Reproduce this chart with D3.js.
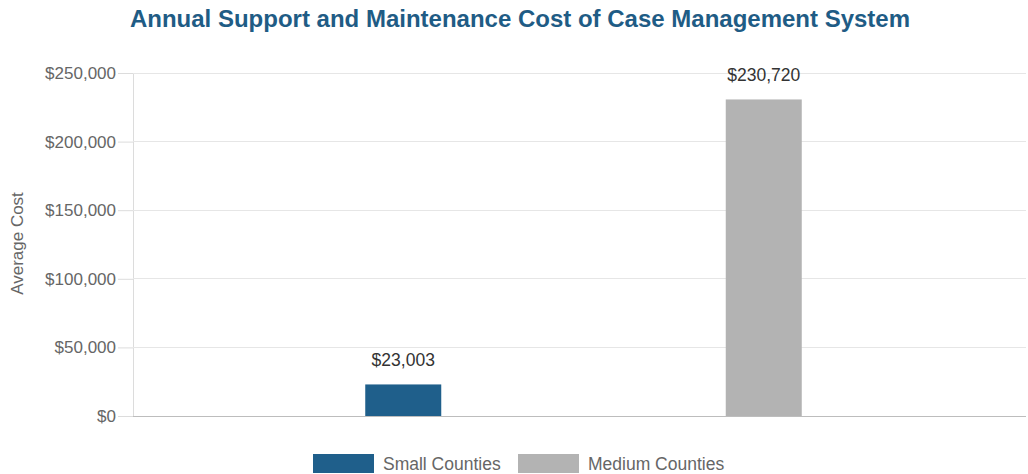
<!DOCTYPE html>
<html>
<head>
<meta charset="utf-8">
<script src="https://cdn.jsdelivr.net/npm/d3@7"></script>
<style>
  body { margin: 0; background: #fff; }
  text { font-family: "Liberation Sans", Arial, sans-serif; }
</style>
</head>
<body>
<script>
const series = ["Small Counties", "Medium Counties"]
const values = [23003, 230720]
const colors = ["#1f5f8b", "#b3b3b3"]
const yTicks = [0, 50000, 100000, 150000, 200000, 250000]

const W = 1028, H = 474
const margin = {top: 73, right: 2, bottom: 58, left: 133}
const width = W - margin.left - margin.right,
  height = H - margin.top - margin.bottom

const svg = d3.select('body').append('svg')
  .attr('width', W)
  .attr('height', H)

const money = d => '$' + d3.format(',')(d)

const scaleY = d3.scaleLinear()
  .domain([0, 250000])
  .range([height, 0])

// one category, two datasets side by side
const scaleX = d3.scaleBand()
  .domain(series)
  .range([90, width - 82])

const barW = 76

// title
svg.append('text')
  .attr('x', 520).attr('y', 27)
  .attr('text-anchor', 'middle')
  .attr('font-size', 24).attr('font-weight', 'bold')
  .attr('fill', '#1f5c85')
  .text('Annual Support and Maintenance Cost of Case Management System')

const g = svg.append('g').attr('transform', `translate(${margin.left},${margin.top})`)

// grid + y axis
const axisY = d3.axisLeft(scaleY)
  .tickValues(yTicks)
  .tickFormat(money)
  .tickSize(15)
  .tickPadding(2)

const yG = g.append('g').call(axisY)
yG.select('.domain').attr('stroke', '#dcdcdc')
yG.selectAll('.tick line').attr('stroke', '#dcdcdc')
yG.selectAll('.tick text').attr('fill', '#666').attr('font-size', 17)
  .attr('font-family', '"Liberation Sans", Arial, sans-serif')

g.append('g').selectAll('line')
  .data(yTicks)
  .enter().append('line')
  .attr('x1', 0).attr('x2', width)
  .attr('y1', d => scaleY(d)).attr('y2', d => scaleY(d))
  .attr('stroke', d => d === 0 ? '#bdbdbd' : '#e6e6e6')
  .attr('shape-rendering', 'crispEdges')

// y title
svg.append('text')
  .attr('transform', `translate(23,${margin.top + height / 2 - 1}) rotate(-90)`)
  .attr('text-anchor', 'middle')
  .attr('font-size', 17).attr('fill', '#666')
  .text('Average Cost')

// bars
g.selectAll('rect.bar')
  .data(series)
  .enter().append('rect')
  .attr('class', 'bar')
  .attr('x', d => scaleX(d) + scaleX.bandwidth() / 2 - barW / 2)
  .attr('width', barW)
  .attr('y', (d, i) => scaleY(values[i]))
  .attr('height', (d, i) => height - scaleY(values[i]))
  .attr('fill', (d, i) => colors[i])

// value labels
g.selectAll('text.val')
  .data(series)
  .enter().append('text')
  .attr('class', 'val')
  .attr('x', d => scaleX(d) + scaleX.bandwidth() / 2)
  .attr('y', (d, i) => scaleY(values[i]) - 18)
  .attr('text-anchor', 'middle')
  .attr('font-size', 17.5).attr('fill', '#333')
  .text((d, i) => money(values[i]))

// legend
const legendX = [313, 518]
const lg = svg.append('g').attr('transform', 'translate(0,454)')
series.forEach((s, i) => {
  lg.append('rect')
    .attr('x', legendX[i]).attr('y', 0)
    .attr('width', 61).attr('height', 19)
    .attr('fill', colors[i])
  lg.append('text')
    .attr('x', legendX[i] + 70).attr('y', 16)
    .attr('font-size', 17.5).attr('fill', '#666')
    .text(s)
})
</script>
</body>
</html>
